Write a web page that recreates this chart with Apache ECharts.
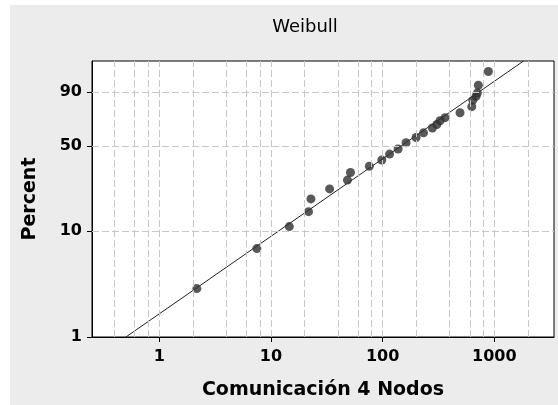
<!DOCTYPE html>
<html>
<head>
<meta charset="utf-8">
<script src="https://cdn.jsdelivr.net/npm/echarts@6/dist/echarts.min.js"></script>
<style>
html, body { margin: 0; padding: 0; background: #fff; }
#main { width: 558px; height: 405px; }
</style>
</head>
<body>
<div id="main"></div>
<script>
// tiempos observados y su percentil (papel Weibull)
var times = [2.17, 7.48, 14.6, 21.7, 22.8, 33.5, 48.4, 51.5, 76.0, 98.3, 115.4, 137.5, 162.1,
    199.2, 232.4, 278.6, 305.6, 326.4, 362, 493, 628, 642, 686, 705, 719, 884];
var percents = [2.9, 6.9, 11.0, 15.0, 19.4, 23.6, 27.9, 32.1, 35.9, 40.0, 44.2, 47.9, 52.8,
    56.9, 60.7, 64.7, 67.5, 70.5, 73.0, 76.8, 81.2, 85.5, 87.8, 89.6, 93.2, 97.4];

// recta ajustada (extremos)
var fitTimes = [0.503, 1825];
var fitPercents = [1, 99];

var xTicks = [1, 10, 100, 1000];
var yTicks = [1, 10, 50, 90];
var xGrid = [0.4, 0.6, 0.8, 1, 2, 4, 6, 8, 10, 20, 40, 60, 80, 100, 200, 400, 600, 800, 1000, 2000];
var yGrid = [10, 50, 90];
var xRange = [0.25, 3420];
var yRange = [1, 99];

function lx(v) { return Math.log10(v); }
function wy(p) { return Math.log(-Math.log(1 - p / 100)); }

var myChart = echarts.init(document.getElementById('main'));

var font = 'DejaVu Sans';
var gridLine = { color: '#c8c8c8', width: 1, type: [7, 3] };

var marks = [];
xGrid.forEach(function (v) { marks.push({ xAxis: lx(v) }); });
yGrid.forEach(function (v) { marks.push({ yAxis: wy(v) }); });

option = {
    backgroundColor: '#fff',
    animation: false,
    graphic: [{
        type: 'rect',
        left: 10, top: 5, z: -10,
        shape: { width: 548, height: 400 },
        style: { fill: '#ececec' }
    }],
    title: {
        text: 'Weibull',
        left: 300, top: 13,
        textAlign: 'center',
        textStyle: { fontFamily: font, fontSize: 18, fontWeight: 'normal', color: '#000' }
    },
    grid: {
        left: 92, top: 61, width: 462, height: 282,
        show: true, backgroundColor: '#fff', borderColor: '#000', borderWidth: 1
    },
    xAxis: {
        type: 'value',
        min: lx(xRange[0]), max: lx(xRange[1]),
        name: 'Comunicación 4 Nodos',
        nameLocation: 'middle', nameGap: 44,
        nameTextStyle: { fontFamily: font, fontSize: 19, fontWeight: 'bold', color: '#000' },
        axisLine: { show: true, onZero: false, lineStyle: { color: '#000' } },
        axisTick: { show: true, length: 5, lineStyle: { color: '#000' }, customValues: xTicks.map(lx) },
        axisLabel: {
            customValues: xTicks.map(lx), margin: 12,
            fontFamily: font, fontSize: 16, fontWeight: 'bold', color: '#000',
            formatter: function (v) { return String(Math.round(Math.pow(10, v))); }
        },
        splitLine: { show: false }
    },
    yAxis: {
        type: 'value',
        min: wy(yRange[0]), max: wy(yRange[1]),
        name: 'Percent',
        nameLocation: 'middle', nameGap: 52, nameRotate: 90,
        nameTextStyle: { fontFamily: font, fontSize: 19, fontWeight: 'bold', color: '#000' },
        axisLine: { show: true, onZero: false, lineStyle: { color: '#000' } },
        axisTick: { show: true, length: 5, lineStyle: { color: '#000' }, customValues: yTicks.map(wy) },
        axisLabel: {
            customValues: yTicks.map(wy), margin: 10,
            fontFamily: font, fontSize: 16, fontWeight: 'bold', color: '#000',
            formatter: function (v) {
                for (var i = 0; i < yTicks.length; i++) {
                    if (Math.abs(wy(yTicks[i]) - v) < 1e-6) return String(yTicks[i]);
                }
                return '';
            }
        },
        splitLine: { show: false }
    },
    series: [
        {
            name: 'grid',
            type: 'line',
            data: [],
            z: 1,
            silent: true,
            markLine: {
                silent: true,
                symbol: 'none',
                label: { show: false },
                lineStyle: gridLine,
                data: marks
            }
        },
        {
            name: 'fit',
            type: 'line',
            z: 2,
            symbol: 'none',
            lineStyle: { color: '#222', width: 1 },
            data: fitTimes.map(function (v, i) { return [lx(v), wy(fitPercents[i])]; })
        },
        {
            name: 'datos',
            type: 'scatter',
            z: 3,
            symbolSize: 9,
            itemStyle: { color: '#303030' },
            data: times.map(function (v, i) { return [lx(v), wy(percents[i])]; })
        }
    ]
};
myChart.setOption(option);
</script>
</body>
</html>
